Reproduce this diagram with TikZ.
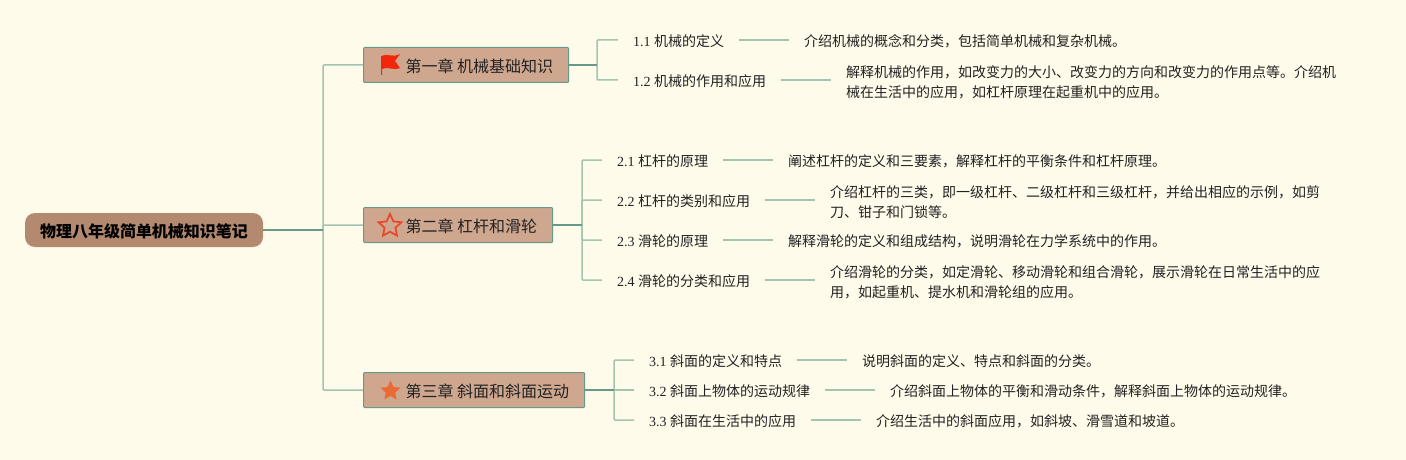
\documentclass[tikz,border=0pt]{standalone}
\usepackage{fontspec}
\setmainfont{Liberation Serif}
\newfontfamily\cjk{Noto Sans CJK SC}
\usetikzlibrary{shapes.geometric}
\definecolor{pagebg}{HTML}{FFFBEA}
\definecolor{rootfill}{HTML}{B3896F}
\definecolor{chapfill}{HTML}{CFA78F}
\definecolor{linedark}{HTML}{67998A}
\definecolor{linelight}{HTML}{A3C5B0}
\definecolor{inktext}{HTML}{222222}
\definecolor{flagred}{HTML}{F2260B}
\definecolor{starred}{HTML}{E8492B}
\definecolor{starorange}{HTML}{EA6A35}
\tikzset{
  rootbox/.style={fill=rootfill, rounded corners=10pt, minimum width=238pt, minimum height=34pt, inner sep=0pt, text=black, font=\fontsize{16}{20}\selectfont\cjk\bfseries, execute at begin node={\rule{0pt}{16pt}}},
  chapbox/.style={anchor=west, fill=chapfill, draw=linedark, line width=1pt, rounded corners=1pt, minimum height=35pt, inner xsep=15.5pt, inner ysep=0pt, text=inktext, font=\fontsize{16}{20}\selectfont\cjk, execute at begin node={\rule{0pt}{16pt}}},
  leaf/.style={anchor=west, inner xsep=15pt, inner ysep=2pt, text=inktext, font=\fontsize{14}{20}\selectfont, execute at begin node={\rule{0pt}{14.3pt}}},
  note/.style={leaf, align=left},
  notetwo/.style={note, execute at begin node={}},
  trunk/.style={draw=linedark, line width=2pt},
  branch/.style={draw=linelight, line width=1.5pt, rounded corners=1pt}
}
\begin{document}
\begin{tikzpicture}[x=1pt, y=-1pt]
\useasboundingbox (0,0) rectangle (1406,460);
\fill[pagebg] (0,0) rectangle (1406,460);

\node (root) at (144,230) [rootbox] {物理八年级简单机械知识笔记};
\coordinate (hub0) at (323,230);

% chapters
\node (ch1) at (363,65) [chapbox] {\hspace*{26.5pt}第一章 机械基础知识};
\node (ch2) at (363,225) [chapbox] {\hspace*{26.5pt}第二章 杠杆和滑轮};
\node (ch3) at (363,390) [chapbox] {\hspace*{26.5pt}第三章 斜面和斜面运动};
\coordinate (hub1) at (597,65);
\coordinate (hub2) at (582,225);
\coordinate (hub3) at (614,390);

% icons
\fill[flagred] (381,56) .. controls (387,53) and (393,58) .. (400,54) -- (395,61) -- (400,68) .. controls (393,71) and (388,66) .. (382,69) -- (382,75) -- (381,75) -- cycle;
\node (icon2) at (390,226) [star, star points=5, star point ratio=2.1, draw=starred, line width=1.8pt, minimum size=24pt, inner sep=0pt] {};
\node (icon3) at (390.5,391) [star, star points=5, star point ratio=2.1, fill=starorange, minimum size=21pt, inner sep=0pt] {};

% sections
\node (s11) at (618,40) [leaf] {1.1 \cjk 机械的定义};
\node (s12) at (618,80) [leaf] {1.2 \cjk 机械的作用和应用};
\node (s21) at (602,160) [leaf] {2.1 \cjk 杠杆的原理};
\node (s22) at (602,200) [leaf] {2.2 \cjk 杠杆的类别和应用};
\node (s23) at (602,240) [leaf] {2.3 \cjk 滑轮的原理};
\node (s24) at (602,280) [leaf] {2.4 \cjk 滑轮的分类和应用};
\node (s31) at (634,360) [leaf] {3.1 \cjk 斜面的定义和特点};
\node (s32) at (634,390) [leaf] {3.2 \cjk 斜面上物体的运动规律};
\node (s33) at (634,420) [leaf] {3.3 \cjk 斜面在生活中的应用};

% notes
\node (d11) at (789,40) [note] {\cjk 介绍机械的概念和分类，包括简单机械和复杂机械。};
\node (d12) at (831,82) [notetwo] {\cjk 解释机械的作用，如改变力的大小、改变力的方向和改变力的作用点等。介绍机\\\cjk 械在生活中的应用，如杠杆原理在起重机中的应用。};
\node (d21) at (773,160) [note] {\cjk 阐述杠杆的定义和三要素，解释杠杆的平衡条件和杠杆原理。};
\node (d22) at (815,202) [notetwo] {\cjk 介绍杠杆的三类，即一级杠杆、二级杠杆和三级杠杆，并给出相应的示例，如剪\\\cjk 刀、钳子和门锁等。};
\node (d23) at (773,240) [note] {\cjk 解释滑轮的定义和组成结构，说明滑轮在力学系统中的作用。};
\node (d24) at (815,282) [notetwo] {\cjk 介绍滑轮的分类，如定滑轮、移动滑轮和组合滑轮，展示滑轮在日常生活中的应\\\cjk 用，如起重机、提水机和滑轮组的应用。};
\node (d31) at (847,360) [note] {\cjk 说明斜面的定义、特点和斜面的分类。};
\node (d32) at (875,390) [note] {\cjk 介绍斜面上物体的平衡和滑动条件，解释斜面上物体的运动规律。};
\node (d33) at (861,420) [note] {\cjk 介绍生活中的斜面应用，如斜坡、滑雪道和坡道。};

\draw[branch] (hub0) |- (ch1.west);
\draw[branch] (hub0) |- (ch2.west);
\draw[branch] (hub0) |- (ch3.west);
\draw[trunk] (root.east) -- (hub0);

\draw[branch] (hub1) |- (s11.west);
\draw[branch] (hub1) |- (s12.west);
\draw[trunk] (ch1.east) -- (hub1);

\draw[branch] (hub2) |- (s21.west);
\draw[branch] (hub2) |- (s22.west);
\draw[branch] (hub2) |- (s23.west);
\draw[branch] (hub2) |- (s24.west);
\draw[trunk] (ch2.east) -- (hub2);

\draw[branch] (hub3) |- (s31.west);
\draw[branch] (hub3) -- (s32.west);
\draw[branch] (hub3) |- (s33.west);
\draw[trunk] (ch3.east) -- (hub3);

\draw[branch] (s11) -- (d11);
\draw[branch] (s12.east) -- (s12.east -| d12.west);
\draw[branch] (s21) -- (d21);
\draw[branch] (s22.east) -- (s22.east -| d22.west);
\draw[branch] (s23) -- (d23);
\draw[branch] (s24.east) -- (s24.east -| d24.west);
\draw[branch] (s31) -- (d31);
\draw[branch] (s32) -- (d32);
\draw[branch] (s33) -- (d33);
\end{tikzpicture}
\end{document}
